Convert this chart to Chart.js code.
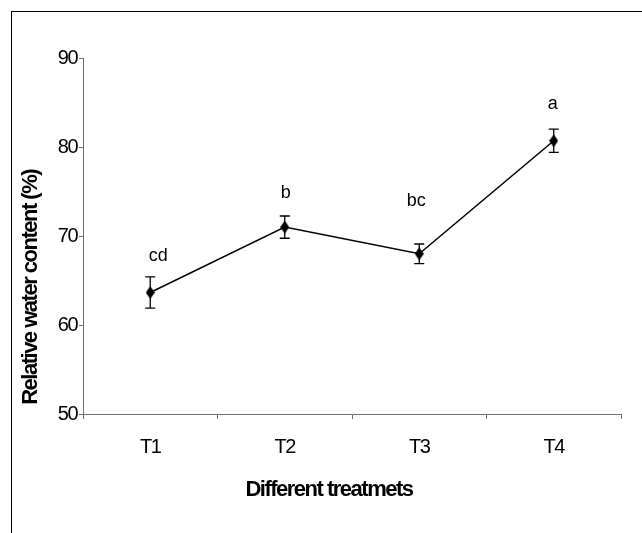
<!DOCTYPE html>
<html><head><meta charset="utf-8">
<script src="https://cdn.jsdelivr.net/npm/chart.js@4"></script>
<style>html,body{margin:0;padding:0;background:#fff;overflow:hidden}canvas{display:block}</style>
</head><body>
<canvas id="c" width="642" height="533"></canvas>
<script>
// ---- data ----
const categories = ['T1', 'T2', 'T3', 'T4'];
const meanValues = [63.65, 71.0, 68.0, 80.7];
const errorValues = [1.75, 1.25, 1.1, 1.3];
const letterLabels = ['cd', 'b', 'bc', 'a'];
const letterValues = [67.2, 74.25, 73.4, 84.3];
const yTickValues = [50, 60, 70, 80, 90];
const xTitle = 'Different treatmets';
const yTitle = 'Relative water content (%)';

const FAMILY = "'Liberation Sans', Arial, sans-serif";
Chart.defaults.font.family = FAMILY;

// diamond marker (taller than wide)
const diamond = document.createElement('canvas');
diamond.width = 9; diamond.height = 13;
(function () {
  const g = diamond.getContext('2d');
  g.fillStyle = '#000';
  g.beginPath();
  g.moveTo(4.5, 0); g.lineTo(9, 6.5); g.lineTo(4.5, 13); g.lineTo(0, 6.5);
  g.closePath(); g.fill();
})();

const framePlugin = {
  id: 'frame',
  beforeDraw(chart) {
    const ctx = chart.ctx;
    ctx.save();
    ctx.fillStyle = '#fff';
    ctx.fillRect(0, 0, chart.width, chart.height);
    ctx.strokeStyle = '#000';
    ctx.lineWidth = 1;
    ctx.strokeRect(11.5, 11.5, 800, 800);
    ctx.restore();
    ctx.letterSpacing = '-1.5px';
  }
};

const errorBarPlugin = {
  id: 'errorBars',
  beforeDatasetsDraw(chart) {
    const { ctx, scales: { x, y } } = chart;
    ctx.save();
    ctx.strokeStyle = '#000';
    ctx.lineWidth = 1.3;
    meanValues.forEach((m, i) => {
      const px = x.getPixelForValue(i);
      const top = y.getPixelForValue(m + errorValues[i]);
      const bot = y.getPixelForValue(m - errorValues[i]);
      ctx.beginPath();
      ctx.moveTo(px, top); ctx.lineTo(px, bot);
      ctx.moveTo(px - 5, top); ctx.lineTo(px + 5, top);
      ctx.moveTo(px - 5, bot); ctx.lineTo(px + 5, bot);
      ctx.stroke();
    });
    ctx.restore();
  }
};

const letterPlugin = {
  id: 'letters',
  afterDatasetsDraw(chart, args, opts) {
    const { ctx, scales: { x, y } } = chart;
    ctx.save();
    ctx.letterSpacing = '0px';
    ctx.fillStyle = '#000';
    ctx.font = '18px ' + FAMILY;
    ctx.textAlign = 'center';
    ctx.textBaseline = 'alphabetic';
    letterLabels.forEach((t, i) => {
      ctx.fillText(t, x.getPixelForValue(i) + opts.dx[i], y.getPixelForValue(letterValues[i]));
    });
    ctx.restore();
  }
};

new Chart(document.getElementById('c'), {
  type: 'line',
  data: {
    labels: categories,
    datasets: [{
      data: meanValues,
      borderColor: '#000',
      borderWidth: 1.5,
      pointStyle: diamond,
      pointRadius: 6,
      pointHoverRadius: 6,
      tension: 0,
      fill: false
    }]
  },
  options: {
    responsive: false,
    animation: false,
    devicePixelRatio: 1,
    events: [],
    layout: { padding: { left: 0, top: 58, right: 21, bottom: 0 } },
    plugins: {
      legend: { display: false },
      tooltip: { enabled: false },
      letters: { dx: [8, 1, -3, -1] }
    },
    scales: {
      x: {
        offset: true,
        afterFit: s => { s.height = 119; },
        border: { display: true, color: '#707070', width: 1 },
        grid: { offset: true, drawOnChartArea: false, drawTicks: true, tickLength: 5, color: '#707070' },
        ticks: { padding: 16, color: '#000', font: { size: 20 } },
        title: {
          display: true, text: xTitle + '          ', color: '#000',
          font: { size: 22, weight: 'bold' }, padding: { top: 0, bottom: 30 }
        }
      },
      y: {
        min: 50, max: 90,
        afterBuildTicks: s => { s.ticks = yTickValues.map(v => ({ value: v })); },
        afterFit: s => { s.width = 83; },
        border: { display: true, color: '#707070', width: 1 },
        grid: { drawOnChartArea: false, drawTicks: true, tickLength: 4, color: '#707070' },
        ticks: { padding: 2, color: '#000', font: { size: 20 } },
        title: {
          display: true, text: '  ' + yTitle, align: 'start', color: '#000',
          font: { size: 22, weight: 'bold' }, padding: { top: 18, bottom: 0 }
        }
      }
    }
  },
  plugins: [framePlugin, errorBarPlugin, letterPlugin]
});
</script>
</body></html>
